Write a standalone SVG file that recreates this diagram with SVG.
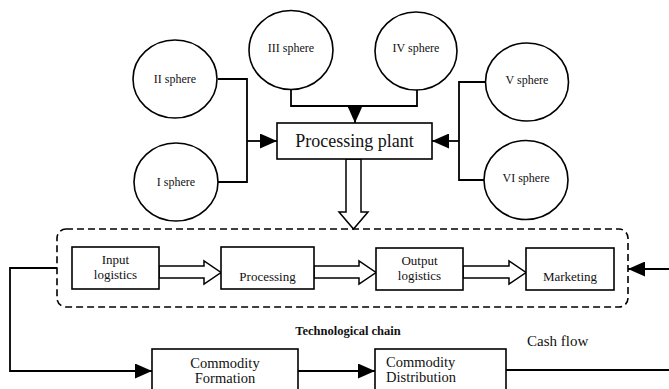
<svg xmlns="http://www.w3.org/2000/svg" width="669" height="389" viewBox="0 0 669 389">
<defs>
<style>
text{font-family:"Liberation Serif","Times New Roman",serif;fill:#111;}
.sp{font-size:12px;text-anchor:middle;}
.bx{font-size:13px;text-anchor:middle;}
.node{fill:#fff;stroke:#000;stroke-width:1.6;}
.ln{fill:none;stroke:#000;stroke-width:1.8;}
.hol{fill:#fff;stroke:#000;stroke-width:1.5;stroke-linejoin:miter;}
</style>
<marker id="ah" markerUnits="userSpaceOnUse" markerWidth="17" markerHeight="15" refX="17" refY="7.5" orient="auto">
<path d="M0,0 L17,7.5 L0,15 z" fill="#000"/>
</marker>
</defs>

<g id="connectors">
<path class="ln" d="M218,79 H247 V182 H218"/>
<path class="ln" d="M247,141 H277" marker-end="url(#ah)"/>
<path class="ln" d="M291,89 V106 H417 V90"/>
<path class="ln" d="M355,106 V123" marker-end="url(#ah)"/>
<path class="ln" d="M485,82 H459 V180 H484"/>
<path class="ln" d="M459,141 H432" marker-end="url(#ah)"/>
<polygon class="hol" points="346,159 361,159 361,212 368,212 353.5,229 339,212 346,212"/>
<polygon class="hol" points="159,266 204,266 204,261 221,272.5 204,284 204,278 159,278"/>
<polygon class="hol" points="314,266 359,266 359,261 376,272.5 359,284 359,278 314,278"/>
<polygon class="hol" points="463,266 509,266 509,261 526,272.5 509,284 509,278 463,278"/>
<path class="ln" d="M57,268 H10 V371 H152" marker-end="url(#ah)"/>
<path class="ln" d="M298,371 H375" marker-end="url(#ah)"/>
<path class="ln" d="M506,370 H669"/>
<path class="ln" d="M669,269 H628" marker-end="url(#ah)"/>
</g>

<g id="chain">
<rect x="57" y="229" width="571" height="78" rx="9" fill="none" stroke="#000" stroke-width="1.6" stroke-dasharray="7,4"/>
<text x="348" y="335" font-size="12.5" font-weight="bold" text-anchor="middle">Technological chain</text>
</g>

<g id="sphere2"><ellipse class="node" cx="175" cy="79" rx="42" ry="39"/><text class="sp" x="175" y="83">II sphere</text></g>
<g id="sphere1"><ellipse class="node" cx="176" cy="182" rx="42" ry="39"/><text class="sp" x="176" y="186">I sphere</text></g>
<g id="sphere3"><ellipse class="node" cx="291" cy="50" rx="42" ry="39.5"/><text class="sp" x="291" y="52">III sphere</text></g>
<g id="sphere4"><ellipse class="node" cx="416" cy="51" rx="41" ry="39"/><text class="sp" x="416" y="52">IV sphere</text></g>
<g id="sphere5"><ellipse class="node" cx="527" cy="82" rx="41.5" ry="39"/><text class="sp" x="527" y="84">V sphere</text></g>
<g id="sphere6"><ellipse class="node" cx="526" cy="180" rx="42" ry="39.5"/><text class="sp" x="526" y="182">VI sphere</text></g>

<g id="plant"><rect class="node" x="277" y="123" width="155" height="36"/><text x="354.5" y="147" font-size="18" text-anchor="middle">Processing plant</text></g>

<g id="input"><rect class="node" x="72" y="247" width="87" height="42"/><text class="bx" x="115.5" y="264">Input</text><text class="bx" x="115.5" y="279">logistics</text></g>
<g id="processing"><rect class="node" x="221" y="247" width="93" height="42"/><text class="bx" x="267.5" y="281">Processing</text></g>
<g id="output"><rect class="node" x="376" y="248" width="87" height="42"/><text class="bx" x="419.5" y="265">Output</text><text class="bx" x="419.5" y="280">logistics</text></g>
<g id="marketing"><rect class="node" x="526" y="248" width="88" height="42"/><text class="bx" x="570" y="281">Marketing</text></g>

<g id="formation"><rect class="node" x="152" y="349" width="146" height="50"/><text x="225" y="368" font-size="14.5" text-anchor="middle">Commodity</text><text x="225" y="383" font-size="14.5" text-anchor="middle">Formation</text></g>
<g id="distribution"><rect class="node" x="375" y="349" width="131" height="50"/><text x="386" y="367" font-size="14.5">Commodity</text><text x="386" y="382" font-size="14.5">Distribution</text></g>

<g id="cashflow"><text x="527" y="346" font-size="15">Cash flow</text></g>
</svg>
